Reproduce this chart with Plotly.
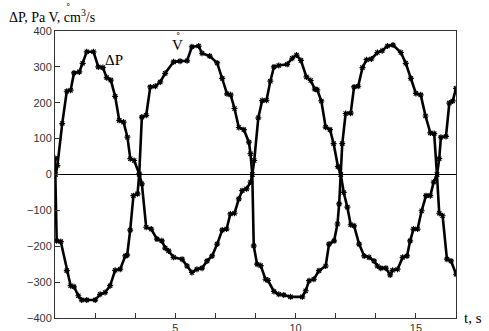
import plotly.graph_objects as go

# Delta P series (Pa)
t_dp = [0.03, 0.10, 0.30, 0.49, 0.65, 0.79, 1.01, 1.15, 1.32, 1.60, 1.80, 1.99, 2.15, 2.32, 2.50,
        2.67, 2.85, 3.01, 3.13, 3.29, 3.50, 3.61, 3.79, 4.00, 4.24, 4.44, 4.58, 4.72, 4.93, 5.28,
        5.49, 5.69, 5.90, 6.11, 6.32, 6.53, 6.74, 6.95, 7.13, 7.29, 7.46, 7.64, 7.78, 7.96, 8.13,
        8.20, 8.28, 8.45, 8.61, 8.79, 8.95, 9.10, 9.30, 9.65, 9.86, 10.04, 10.22, 10.45, 10.63,
        10.80, 10.90, 11.07, 11.25, 11.43, 11.58, 11.76, 11.88, 12.00, 12.15, 12.29, 12.43, 12.64,
        12.85, 13.05, 13.26, 13.40, 13.54, 13.75, 13.93, 14.03, 14.24, 14.45, 14.63, 14.76, 14.90,
        15.07, 15.24, 15.42, 15.60, 15.74, 15.88, 15.97, 16.04, 16.25, 16.39, 16.53, 16.67]
v_dp = [0, 25, 142, 232, 235, 283, 286, 310, 342, 342, 300, 298, 270, 263, 218,
        151, 146, 104, 44, 39, 2, -26, -147, -152, -180, -185, -205, -213, -231, -236,
        -255, -273, -264, -261, -241, -227, -194, -155, -152, -110, -108, -68, -45, -40, -21,
        0, 39, 158, 206, 207, 260, 300, 304, 307, 324, 333, 318, 272, 262,
        238, 236, 205, 132, 125, 86, 22, 0, -50, -91, -140, -143, -194,
        -227, -231, -241, -255, -261, -261, -280, -267, -264, -231, -227, -185, -152,
        -152, -101, -59, -59, -21, 0, 44, 104, 106, 199, 205, 240]

# Volumetric flow series (cm3/s)
t_q = [0.00, 0.07, 0.24, 0.49, 0.65, 0.79, 0.97, 1.11, 1.32, 1.67, 1.875, 2.08, 2.29, 2.50, 2.71,
       2.92, 3.00, 3.125, 3.26, 3.43, 3.50, 3.61, 3.79, 3.96, 4.17, 4.375, 4.58, 4.93, 5.20, 5.49,
       5.69, 5.97, 6.11, 6.43, 6.74, 6.95, 7.15, 7.30, 7.46, 7.64, 7.85, 8.06, 8.125, 8.20, 8.26,
       8.40, 8.55, 8.75, 8.85, 9.10, 9.30, 9.51, 9.79, 10.28, 10.42, 10.56, 10.76, 10.97, 11.25,
       11.39, 11.60, 11.74, 11.81, 11.875, 11.94, 12.08, 12.29, 12.43, 12.60, 12.78, 12.95, 13.15,
       13.40, 13.60, 13.82, 14.05, 14.375, 14.58, 14.79, 15.00, 15.20, 15.40, 15.60, 15.76, 15.875,
       15.97, 16.11, 16.29, 16.46, 16.67]
v_q = [45, -185, -187, -268, -310, -313, -338, -350, -350, -350, -334, -329, -310, -267, -264,
       -227, -225, -155, -59, -54, 0, 160, 165, 244, 246, 258, 282, 314, 316, 317,
       356, 358, 338, 330, 311, 268, 225, 222, 184, 131, 125, 90, 58, 0, -199,
       -250, -254, -292, -295, -326, -334, -336, -341, -341, -324, -296, -292, -268, -255,
       -194, -185, -138, -82, 0, 86, 170, 171, 244, 246, 298, 320, 322,
       340, 345, 358, 361, 340, 310, 268, 226, 222, 163, 116, 114, 0,
       -108, -115, -236, -241, -278]

x_tickvals = [i * 5 / 3 for i in range(11)]
x_ticktext = [" " if i not in (3, 6, 9) else str(int(round(i * 5 / 3))) for i in range(11)]
y_tickvals = list(range(-400, 401, 100))

fig = go.Figure()
for tx, vy in ((t_dp, v_dp), (t_q, v_q)):
    fig.add_trace(go.Scatter(
        x=tx, y=vy, mode="lines+markers",
        line=dict(color="black", width=2.6),
        marker=dict(symbol="asterisk-open", size=5, color="black", line=dict(color="black", width=1.2)),
        showlegend=False, cliponaxis=True))

serif = "Liberation Serif"
font15 = dict(family=serif, size=15, color="black")
ring = dict(family=serif, size=13, color="black")
fig.update_layout(
    width=489, height=331,
    margin=dict(l=55, r=33, t=31, b=13),
    plot_bgcolor="white", paper_bgcolor="white",
    showlegend=False,
    xaxis=dict(range=[0, 50 / 3], tickvals=x_tickvals, ticktext=x_ticktext, automargin=False,
               ticks="inside", ticklen=5, tickcolor="#333", showgrid=False, zeroline=False,
               showline=True, linecolor="#333", linewidth=1, mirror=True,
               tickfont=dict(family="Liberation Sans", size=11, color="#333")),
    yaxis=dict(range=[-400, 400], tickvals=y_tickvals, automargin=False,
               ticks="inside", ticklen=5, tickcolor="#333", showgrid=False,
               zeroline=True, zerolinecolor="black", zerolinewidth=1,
               showline=True, linecolor="#333", linewidth=1, mirror=True,
               tickfont=dict(family="Liberation Sans", size=11, color="#333")),
    annotations=[
        dict(text="ΔP, Pa V, cm<sup>3</sup>/s", xref="paper", yref="paper", x=-48 / 401, y=1.0,
             xanchor="left", yanchor="bottom", yshift=4, showarrow=False,
             font=dict(family=serif, size=14, color="black")),
        # ring above V in the title
        dict(text="˚", xref="paper", yref="paper", x=(68 - 55) / 401, y=1 + 24 / 287,
             xanchor="center", yanchor="middle", showarrow=False, font=ring),
        dict(text="ΔP", xref="x", yref="y", x=2.0, y=320, xanchor="left", yanchor="middle",
             showarrow=False, font=font15),
        dict(text="V", xref="x", yref="y", x=5.1, y=360, xanchor="center", yanchor="middle",
             showarrow=False, font=font15),
        dict(text="˚", xref="x", yref="y", x=5.1, y=360, xanchor="center", yanchor="middle",
             yshift=9, showarrow=False, font=ring),
        dict(text="t, s", xref="paper", yref="paper", x=1.0, y=0.0, xanchor="left", yanchor="middle",
             xshift=6, showarrow=False, font=font15),
    ],
)

fig.write_html("out.html", config={"displayModeBar": False},
               post_script="document.body.style.margin='0';")
